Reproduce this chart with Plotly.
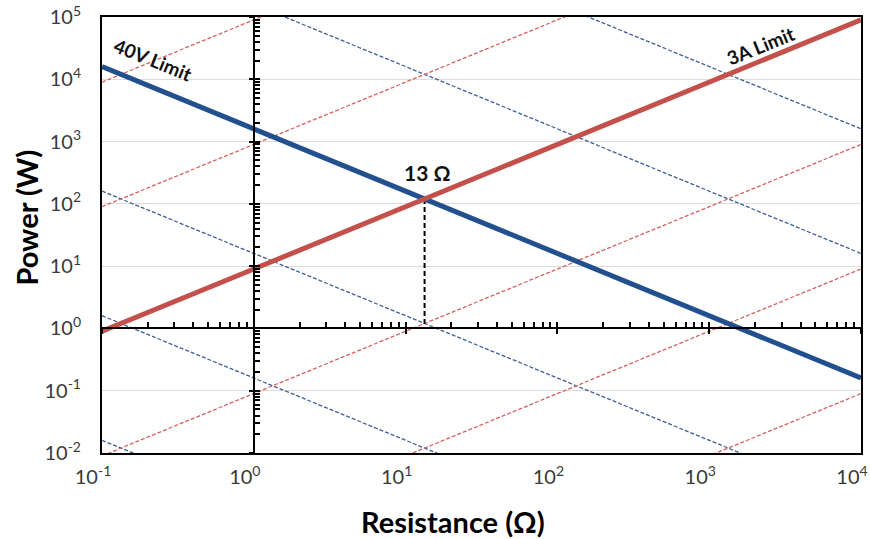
import numpy as np
import plotly.graph_objects as go

# Load-line chart: power dissipated vs. resistance for a 40 V / 3 A supply
R_ENDS = [0.1, 1e4]                      # resistance span of the plot (ohm)
V_LIMIT = 40.0                           # voltage limit (V)
I_LIMIT = 3.0                            # current limit (A)
V_GUIDES = [0.04, 0.4, 4.0, 400.0, 4000.0]   # constant-voltage guide lines (V)
I_GUIDES = [0.003, 0.03, 0.3, 30.0, 300.0]   # constant-current guide lines (A)

X_TICKS = [0.1, 1, 10, 100, 1000, 10000]
X_TICK_TEXT = ["10<sup>-1</sup>", "10<sup>0</sup>", "10<sup>1</sup>",
               "10<sup>2</sup>", "10<sup>3</sup>", "10<sup>4</sup>"]
Y_TICKS = [1e-2, 1e-1, 1, 10, 100, 1e3, 1e4, 1e5]
Y_TICK_TEXT = ["10<sup>-2</sup>", "10<sup>-1</sup>", "10<sup>0</sup>", "10<sup>1</sup>",
               "10<sup>2</sup>", "10<sup>3</sup>", "10<sup>4</sup>", "10<sup>5</sup>"]

BLUE = "#22508E"
RED = "#C4504C"
BLUE_GUIDE = "#3D5F98"
RED_GUIDE = "#D6625F"
FONT = "Lato"
TICK_COLOR = "#3A3A3A"

r = np.array(R_ENDS)
fig = go.Figure()

# dashed guide lines: P = V^2 / R and P = I^2 R
for v in V_GUIDES:
    fig.add_trace(go.Scatter(x=r, y=v ** 2 / r, mode="lines",
                             line=dict(color=BLUE_GUIDE, width=1.3, dash="4px,2px"),
                             hoverinfo="skip"))
for i in I_GUIDES:
    fig.add_trace(go.Scatter(x=r, y=i ** 2 * r, mode="lines",
                             line=dict(color=RED_GUIDE, width=1.3, dash="4px,2px"),
                             hoverinfo="skip"))

# operating point where both limits meet
r_cross = V_LIMIT / I_LIMIT
p_cross = V_LIMIT * I_LIMIT
fig.add_trace(go.Scatter(x=[r_cross, r_cross], y=[p_cross, 1], mode="lines",
                         line=dict(color="black", width=2, dash="5px,3px"),
                         hoverinfo="skip"))

# limit lines
fig.add_trace(go.Scatter(x=r, y=V_LIMIT ** 2 / r, mode="lines",
                         line=dict(color=BLUE, width=5), name="40V Limit"))
fig.add_trace(go.Scatter(x=r, y=I_LIMIT ** 2 * r, mode="lines",
                         line=dict(color=RED, width=5), name="3A Limit"))

# invisible anchors for the crossing axes through R = 1 and P = 1
for xa, ya in [("x2", "y"), ("x3", "y"), ("x", "y2"), ("x", "y3")]:
    fig.add_trace(go.Scatter(x=[1], y=[1], xaxis=xa, yaxis=ya, mode="markers",
                             marker=dict(opacity=0), hoverinfo="skip"))

minor_x = [m * 10.0 ** e for e in range(-1, 4) for m in range(1, 10)] + [1e4]
minor_y = [m * 10.0 ** e for e in range(-2, 5) for m in range(1, 10)] + [1e5]
xr = [np.log10(R_ENDS[0]), np.log10(R_ENDS[1])]
yr = [-2, 5]

frame = dict(showline=True, mirror=True, linecolor="black", linewidth=2, ticks="")

fig.update_layout(
    width=870, height=539,
    margin=dict(l=102, r=2, t=17, b=86),
    paper_bgcolor="white", plot_bgcolor="white",
    showlegend=False,
    font=dict(family=FONT, color=TICK_COLOR),
    xaxis=dict(type="log", range=xr, tickvals=X_TICKS, ticktext=X_TICK_TEXT,
               showgrid=False, zeroline=False, tickfont=dict(size=20, color=TICK_COLOR),
               ticklabelstandoff=5, ticklabelshift=-9, ticklabeloverflow="allow",
               **frame),
    yaxis=dict(type="log", range=yr, tickvals=Y_TICKS, ticktext=Y_TICK_TEXT,
               showgrid=True, gridcolor="#DCDCDC", gridwidth=1, zeroline=False,
               tickfont=dict(size=20, color=TICK_COLOR), ticklabelstandoff=15,
               ticklabeloverflow="allow", **frame),
    # horizontal axis through P = 1
    xaxis2=dict(type="log", range=xr, overlaying="x", anchor="free", position=2 / 7,
                showline=True, linecolor="black", linewidth=2, showgrid=False,
                ticks="inside", ticklen=5, tickwidth=1.5, tickcolor="black",
                tickvals=minor_x, showticklabels=False),
    xaxis3=dict(type="log", range=xr, overlaying="x", anchor="free", position=2 / 7,
                showline=False, showgrid=False,
                ticks="outside", ticklen=5, tickwidth=1.5, tickcolor="black",
                tickvals=X_TICKS, showticklabels=False),
    # vertical axis through R = 1
    yaxis2=dict(type="log", range=yr, overlaying="y", anchor="free", position=0.2,
                showline=True, linecolor="black", linewidth=2, showgrid=False,
                ticks="inside", ticklen=5, tickwidth=1.5, tickcolor="black",
                tickvals=minor_y, showticklabels=False),
    yaxis3=dict(type="log", range=yr, overlaying="y", anchor="free", position=0.2,
                showline=False, showgrid=False,
                ticks="outside", ticklen=5, tickwidth=1.5, tickcolor="black",
                tickvals=Y_TICKS, showticklabels=False),
)

fig.add_annotation(text="<b>40V Limit</b>", x=-0.665, y=4.31, xref="x", yref="y",
                   showarrow=False, textangle=22, font=dict(size=19, color="#111111"))
fig.add_annotation(text="<b>3A Limit</b>", x=3.34, y=4.55, xref="x", yref="y",
                   showarrow=False, textangle=-22, font=dict(size=19, color="#111111"))
fig.add_annotation(text="<b>13 Ω</b>", x=np.log10(r_cross), y=np.log10(p_cross),
                   xref="x", yref="y", showarrow=False, yshift=26, xshift=3,
                   font=dict(size=21, color="#111111"))

fig.add_annotation(text="<b>Power (W)</b>", x=0, y=0.54, xref="paper", yref="paper",
                   xanchor="center", yanchor="middle", xshift=-75, showarrow=False,
                   textangle=-90, font=dict(size=29, color="black"))
fig.add_annotation(text="<b>Resistance (Ω)</b>", x=0.463, y=0, xref="paper", yref="paper",
                   xanchor="center", yanchor="middle", yshift=-68, showarrow=False,
                   font=dict(size=29, color="black"))

fig.write_html("out.html")
